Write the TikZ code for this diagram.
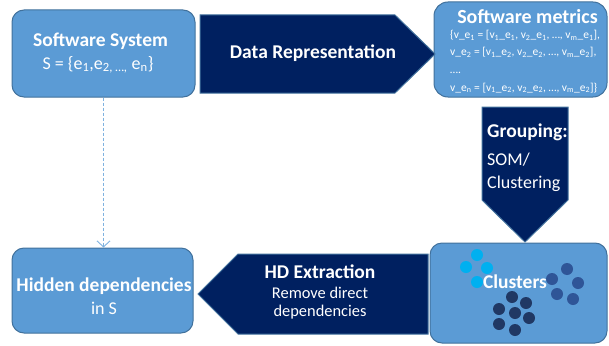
\documentclass[tikz,border=0pt]{standalone}
\usepackage{fontspec}
\setmainfont{Carlito}
\usetikzlibrary{arrows.meta}
\definecolor{boxblue}{HTML}{5B9BD5}
\definecolor{boxedge}{HTML}{41719C}
\definecolor{navy}{HTML}{002060}
\definecolor{cyanc}{HTML}{00B0F0}
\definecolor{midc}{HTML}{2F5597}
\definecolor{darkc}{HTML}{203864}
\definecolor{dashc}{HTML}{7FB2E0}
\newcommand{\subx}[1]{\textsubscript{#1}}
\begin{document}
\begin{tikzpicture}[x=1pt,y=-1pt,
  bluebox/.style={draw=boxedge, line width=1pt, fill=boxblue, rounded corners=12pt, inner sep=0pt, anchor=center},
  chev/.style={draw=boxedge, line width=1pt, fill=navy},
  head/.style={text=white, font=\bfseries\fontsize{19.5}{22}\selectfont, inner sep=0pt, anchor=base},
  body/.style={text=white, font=\fontsize{18}{21}\selectfont, inner sep=0pt, anchor=base},
  small/.style={text=white, font=\fontsize{16.4}{19}\selectfont, inner sep=0pt, anchor=base},
  tiny/.style={text=white, font=\fontsize{11.5}{13}\selectfont, inner sep=0pt, anchor=base west},
  flow/.style={draw=dashc, line width=0.9pt, dash pattern=on 3pt off 2pt, -{Straight Barb[length=6pt,width=13pt,line width=0.9pt]}}
]
\useasboundingbox (0,0) rectangle (609,345);

% boxes
\node[bluebox, minimum width=183pt, minimum height=87pt] (sys) at (103.5,53.5) {};
\node[bluebox, minimum width=173pt, minimum height=95pt, rounded corners=14pt] (met) at (520.5,49.5) {};
\node[bluebox, minimum width=177pt, minimum height=100pt] (clu) at (518.5,293) {};
\node[bluebox, minimum width=181pt, minimum height=85pt] (hid) at (102.5,290.5) {};

% chevrons
\draw[chev] (200,15) -- (395,15) -- (435,54) -- (395,93) -- (200,93) -- cycle;
\draw[chev] (482,107) -- (568,107) -- (568,200) -- (525,242) -- (482,200) -- cycle;
\draw[chev] (428,254) -- (428,334) -- (238,334) -- (198,294) -- (238,254) -- cycle;

% dashed connector
\draw[flow] (sys.south) -- (sys.south |- hid.north);

% texts
\node[head] (t1) at (100.5,47) {Software System};
\node[body] (t2) at (98,69) {S = \{e\subx{1},e\subx{2, …,} e\subx{n}\}};

\node[head] (t3) at (313,59) {Data Representation};

\node[head, font=\bfseries\fontsize{20}{22}\selectfont] (t4) at (527.5,24) {Software metrics};
\node[tiny] (m1) at (450,38.5) {\{v\_e\subx{1} = [v\subx{1}\_e\subx{1}, v\subx{2}\_e\subx{1}, …, v\subx{m}\_e\subx{1}],};
\node[tiny] (m2) at (450,55.5) {v\_e\subx{2} = [v\subx{1}\_e\subx{2}, v\subx{2}\_e\subx{2}, …, v\subx{m}\_e\subx{2}],};
\node[tiny] (m3) at (450,73) {….};
\node[tiny] (m4) at (450,91) {v\_e\subx{n} = [v\subx{1}\_e\subx{2}, v\subx{2}\_e\subx{2}, …, v\subx{m}\_e\subx{2}]\}};

\node[head, anchor=base west] (g1) at (487,137) {Grouping:};
\node[body, anchor=base west] (g2) at (487,165) {SOM/};
\node[body, anchor=base west] (g3) at (487,188) {Clustering};

% cluster dots
\foreach \p in {(477,255),(466,267),(487,268),(477,282)} \fill[cyanc] \p circle (6pt);
\foreach \p in {(567,269),(552,279),(578,283),(557,294),(573,299)} \fill[midc] \p circle (6pt);
\foreach \p in {(512,297),(526,303),(499,309),(515,313),(529,318),(499,324),(515,330)} \fill[darkc] \p circle (6pt);
\node[head] (t5) at (515,288) {Clusters};

\node[head] (t6) at (320,278) {HD Extraction};
\node[small] (t7) at (320,298) {Remove direct};
\node[small] (t8) at (320,316) {dependencies};

\node[head] (t9) at (104,291) {Hidden dependencies};
\node[body] (t10) at (104,314) {in S};
\end{tikzpicture}
\end{document}
